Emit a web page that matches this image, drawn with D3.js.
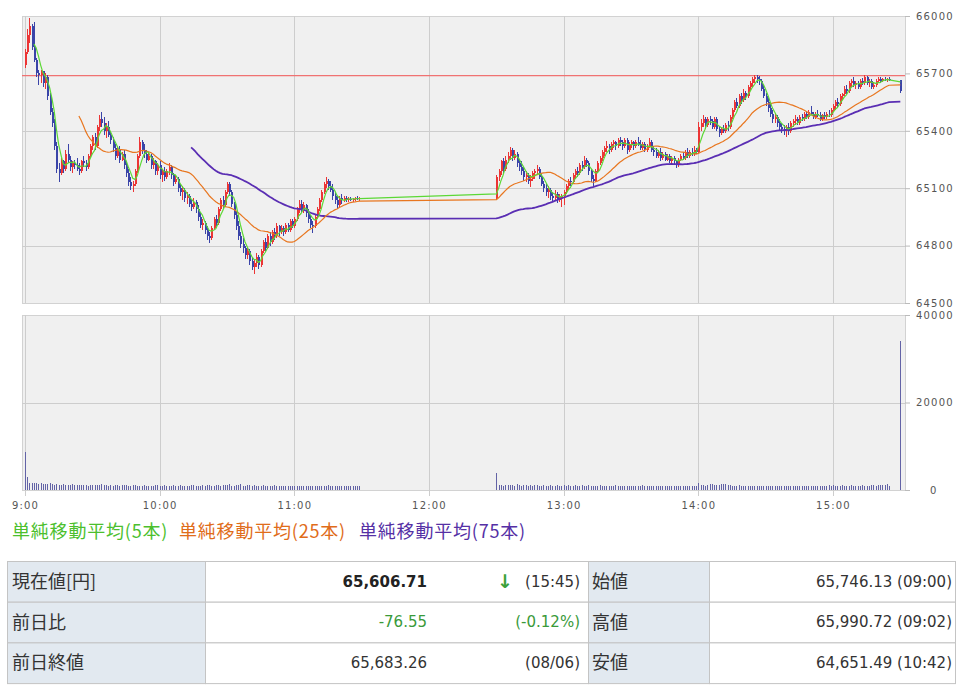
<!DOCTYPE html>
<html lang="ja">
<head>
<meta charset="UTF-8">
<title>日中足チャート</title>
<script src="https://cdn.jsdelivr.net/npm/d3@7"></script>
<style>
  body { margin: 0; background: #fff; }
  svg { display: block; }
  .tick text { font-family: "DejaVu Sans", sans-serif; font-size: 10px; fill: #555; letter-spacing: 1.2px; }
</style>
</head>
<body>
<svg width="962" height="690"></svg>
<script>
// ---- session starts ----
const amStart = "09:00";
const pmStart = "12:30";
const closeTime = "15:30";

// ---- morning 1-minute bars (9:00 - 11:29) ----
const amOpen = [
  65746,65810,65900,65950,65840,65770,65700,65690,65710,65650,
  65680,65580,65500,65440,65320,65200,65180,65240,65200,65280,
  65250,65210,65230,65220,65200,65190,65240,65230,65210,65270,
  65320,65370,65320,65420,65460,65440,65400,65420,65380,65350,
  65310,65270,65300,65250,65280,65220,65180,65130,65110,65120,
  65190,65270,65340,65300,65280,65250,65270,65220,65240,65190,
  65220,65170,65190,65160,65190,65210,65170,65130,65150,65100,
  65080,65090,65050,65060,65020,65000,65030,64990,64950,64910,
  64920,64880,64850,64840,64890,64940,64920,64990,65040,65010,
  65080,65120,65080,65020,64960,64900,64850,64810,64790,64750,
  64770,64720,64690,64710,64740,64700,64770,64820,64790,64850,
  64820,64870,64850,64900,64870,64890,64870,64910,64880,64930,
  64900,64940,64990,65020,64990,65010,64970,64940,64910,64900,
  64950,64990,65040,65080,65120,65140,65110,65090,65060,65040,
  65010,65050,65040,65050,65040,65045,65040,65045,65050,65045
];
const amHigh = [
  65830,65930,65991,65960,65970,65780,65720,65720,65715,65700,
  65690,65600,65520,65460,65340,65230,65260,65250,65300,65330,
  65270,65240,65250,65260,65230,65250,65270,65250,65280,65330,
  65380,65390,65430,65480,65500,65470,65440,65450,65400,65370,
  65330,65320,65320,65290,65300,65240,65200,65160,65140,65200,
  65280,65365,65350,65330,65300,65290,65280,65260,65250,65230,
  65240,65200,65210,65200,65230,65220,65180,65170,65160,65120,
  65110,65100,65080,65070,65040,65050,65040,65010,64970,64940,
  64930,64900,64870,64900,64950,64960,65000,65050,65060,65090,
  65135,65130,65090,65030,64980,64930,64870,64840,64800,64790,
  64780,64740,64730,64760,64750,64780,64830,64840,64860,64870,
  64880,64890,64920,64910,64910,64900,64920,64920,64940,64940,
  64950,65000,65040,65040,65030,65020,64990,64960,64930,64960,
  65000,65050,65090,65130,65161,65150,65140,65120,65080,65060,
  65060,65070,65060,65060,65055,65055,65050,65055,65060,65055
];
const amLow = [
  65730,65800,65860,65820,65760,65680,65640,65650,65630,65620,
  65560,65480,65420,65300,65180,65135,65170,65180,65190,65230,
  65190,65180,65200,65190,65170,65180,65210,65190,65200,65260,
  65300,65300,65310,65400,65420,65380,65360,65370,65330,65290,
  65250,65260,65230,65240,65200,65160,65110,65090,65082,65110,
  65180,65260,65280,65260,65230,65240,65200,65200,65170,65170,
  65150,65130,65140,65150,65170,65150,65110,65120,65080,65060,
  65040,65030,65020,65000,64980,64990,64970,64930,64890,64880,
  64860,64830,64815,64830,64880,64900,64910,64980,64990,65000,
  65070,65060,65000,64940,64880,64830,64790,64760,64730,64730,
  64700,64670,64651,64690,64680,64690,64760,64770,64780,64800,
  64810,64830,64840,64850,64860,64850,64860,64870,64870,64890,
  64890,64930,64970,64970,64970,64950,64920,64890,64867,64890,
  64940,64980,65030,65070,65100,65090,65080,65040,65020,64990,
  65000,65020,65030,65030,65030,65035,65030,65035,65040,65035
];
const amClose = [
  65810,65900,65950,65840,65770,65700,65690,65710,65650,65680,
  65580,65500,65440,65320,65200,65180,65240,65200,65280,65250,
  65210,65230,65220,65200,65190,65240,65230,65210,65270,65320,
  65370,65320,65420,65460,65440,65400,65420,65380,65350,65310,
  65270,65300,65250,65280,65220,65180,65130,65110,65120,65190,
  65270,65340,65300,65280,65250,65270,65220,65240,65190,65220,
  65170,65190,65160,65190,65210,65170,65130,65150,65100,65080,
  65090,65050,65060,65020,65000,65030,64990,64950,64910,64920,
  64880,64850,64840,64890,64940,64920,64990,65040,65010,65080,
  65120,65080,65020,64960,64900,64850,64810,64790,64750,64770,
  64720,64690,64710,64740,64700,64770,64820,64790,64850,64820,
  64870,64850,64900,64870,64890,64870,64910,64880,64930,64900,
  64940,64990,65020,64990,65010,64970,64940,64910,64900,64950,
  64990,65040,65080,65120,65140,65110,65090,65060,65040,65010,
  65050,65040,65050,65040,65045,65040,65045,65050,65045,65050
];
const amVol = [
  8700,3000,1700,1600,1500,1650,1400,1550,1300,1450,1350,1500,
  1300,1250,1400,1200,1150,1300,1250,1100,1200,1350,
  1100,1200,1050,1150,1250,1100,1000,1200,1150,1050,
  1100,1250,1300,1150,1050,1000,1100,950,1050,1150,
  1000,1100,1200,1050,950,1000,1100,1050,900,1000,
  950,1050,1000,900,950,1000,1050,1100,950,1000,
  1050,1000,900,950,1100,1000,950,1050,900,1000,
  1000,950,1100,1150,1000,950,900,1050,1000,1100,
  1250,1000,950,1100,1050,1000,1200,1150,1050,1300,
  1000,950,1100,1050,1400,1000,950,1050,1100,1000,
  1150,1000,900,950,1200,1000,900,950,1000,1050,
  950,900,1000,850,900,950,900,850,1000,900,
  950,900,850,900,1000,950,900,850,900,950,
  1000,900,950,1050,900,850,900,950,1000,900,
  950,900,850,1000,900,950,850,900
];

// ---- afternoon 1-minute bars (12:30 - 15:25) ----
const pmOpen = [
  65050,65160,65190,65240,65200,65250,65270,65300,65260,65280,
  65230,65210,65190,65160,65170,65140,65150,65180,65190,65200,
  65160,65120,65100,65080,65090,65060,65050,65070,65040,65050,
  65060,65080,65110,65140,65130,65170,65190,65180,65220,65210,
  65250,65230,65190,65150,65140,65190,65230,65260,65290,65310,
  65320,65300,65330,65340,65320,65350,65340,65320,65350,65300,
  65330,65340,65320,65340,65330,65310,65330,65300,65320,65340,
  65300,65290,65270,65290,65260,65280,65250,65270,65240,65260,
  65240,65220,65250,65270,65260,65290,65270,65290,65280,65300,
  65290,65420,65440,65460,65430,65460,65450,65420,65460,65410,
  65390,65410,65400,65430,65420,65470,65510,65550,65530,65580,
  65560,65600,65580,65630,65650,65670,65680,65670,65660,65620,
  65580,65550,65520,65490,65460,65470,65440,65420,65410,65400,
  65420,65400,65440,65450,65460,65440,65470,65460,65490,65470,
  65500,65490,65470,65490,65480,65460,65480,65470,65490,65480,
  65510,65530,65550,65540,65580,65590,65620,65610,65650,65660,
  65640,65650,65630,65660,65650,65680,65650,65660,65630,65640,
  65660,65670,65660,65670,65665,65670
];
const pmHigh = [
  65170,65200,65250,65260,65270,65290,65313,65310,65300,65290,
  65250,65240,65210,65190,65180,65170,65190,65200,65220,65210,
  65180,65140,65120,65110,65100,65080,65090,65080,65070,65070,
  65090,65120,65150,65160,65180,65200,65210,65230,65240,65266,
  65260,65240,65200,65170,65200,65240,65270,65300,65320,65345,
  65330,65340,65350,65345,65360,65370,65350,65360,65360,65340,
  65350,65345,65350,65370,65350,65340,65340,65330,65360,65350,
  65320,65310,65300,65310,65290,65290,65280,65280,65270,65270,
  65250,65260,65280,65290,65300,65310,65300,65310,65320,65310,
  65444,65460,65480,65470,65470,65476,65460,65470,65470,65420,
  65420,65430,65440,65450,65480,65520,65560,65570,65590,65600,
  65620,65610,65640,65660,65680,65691,65690,65685,65670,65640,
  65600,65570,65540,65510,65490,65480,65460,65440,65430,65430,
  65440,65450,65460,65480,65470,65480,65490,65500,65500,65510,
  65530,65500,65500,65510,65500,65490,65500,65500,65510,65520,
  65540,65560,65570,65590,65600,65633,65640,65660,65670,65680,
  65660,65660,65670,65675,65690,65685,65670,65670,65650,65670,
  65680,65680,65675,65680,65675,65680
];
const pmLow = [
  65045,65140,65170,65180,65190,65230,65250,65240,65250,65210,
  65190,65170,65140,65130,65120,65108,65140,65150,65170,65150,
  65110,65080,65060,65050,65040,65030,65040,65024,65030,65003,
  65010,65070,65090,65110,65120,65150,65160,65170,65190,65200,
  65210,65170,65130,65108,65130,65180,65220,65240,65270,65290,
  65280,65290,65310,65300,65310,65320,65300,65310,65280,65290,
  65310,65300,65310,65320,65300,65300,65290,65290,65310,65290,
  65270,65260,65260,65240,65250,65240,65240,65230,65230,65220,
  65208,65210,65240,65250,65250,65260,65260,65270,65270,65280,
  65285,65400,65420,65410,65420,65430,65410,65410,65400,65370,
  65380,65390,65390,65400,65410,65460,65500,65520,65520,65540,
  65550,65560,65570,65610,65630,65650,65650,65640,65610,65570,
  65530,65500,65470,65440,65440,65420,65400,65390,65380,65370,
  65380,65390,65420,65430,65430,65430,65450,65450,65460,65460,
  65480,65460,65460,65470,65450,65450,65460,65460,65470,65470,
  65500,65510,65520,65530,65560,65580,65590,65600,65630,65630,
  65620,65620,65620,65640,65640,65640,65630,65620,65617,65630,
  65650,65650,65655,65660,65655,65660
];
const pmClose = [
  65160,65190,65240,65200,65250,65270,65300,65260,65280,65230,
  65210,65190,65160,65170,65140,65150,65180,65190,65200,65160,
  65120,65100,65080,65090,65060,65050,65070,65040,65060,65060,
  65080,65110,65140,65130,65170,65190,65180,65220,65210,65250,
  65230,65190,65150,65140,65190,65230,65260,65290,65310,65320,
  65300,65330,65340,65320,65350,65340,65320,65350,65300,65330,
  65340,65320,65340,65330,65310,65330,65300,65320,65340,65300,
  65290,65270,65290,65260,65280,65250,65270,65240,65260,65240,
  65220,65250,65270,65260,65290,65270,65290,65280,65300,65290,
  65420,65440,65460,65430,65460,65450,65420,65460,65410,65390,
  65410,65400,65430,65420,65470,65510,65550,65530,65580,65560,
  65600,65580,65630,65650,65670,65680,65670,65660,65620,65580,
  65550,65520,65490,65460,65470,65440,65420,65410,65400,65420,
  65400,65440,65450,65460,65440,65470,65460,65490,65470,65500,
  65490,65470,65490,65480,65460,65480,65470,65490,65480,65510,
  65530,65550,65540,65580,65590,65620,65610,65650,65660,65640,
  65650,65630,65660,65650,65680,65650,65660,65630,65640,65660,
  65670,65660,65670,65665,65670,65665
];
const pmVol = [
  3800,1200,1100,1000,1150,1050,1250,1100,1000,1300,1150,
  1000,1100,1050,950,1100,1000,1050,1100,950,1000,
  1100,1000,950,1050,900,1000,1150,1000,950,1050,
  1000,1100,950,1000,1050,950,1000,1100,1000,950,
  1050,1000,900,950,1000,1050,1000,950,900,1000,
  950,1000,1050,900,950,1000,900,950,1000,950,
  900,1000,950,900,1050,950,900,1000,950,900,
  950,900,850,950,900,1000,850,900,950,1000,
  900,850,950,900,850,1000,900,950,1000,1500,
  1200,1100,1000,1050,1300,1350,1250,1100,1200,1300,
  1350,1300,1200,1100,1000,950,1000,1050,950,1000,
  950,1000,900,950,1000,950,900,1000,950,900,
  1000,950,900,950,1000,900,950,1000,900,950,
  1000,950,1000,900,950,1000,950,900,1000,950,
  1000,950,900,1000,950,900,1000,1050,950,1100,
  1000,950,1000,1050,950,900,1000,1050,1000,950,
  1000,950,1050,1000,950,1000,1050,1100,1000,1150,
  1050,1100,1200,1400,1000
];

// ---- closing auction bar (15:30) ----
const closeOpen = [65665];
const closeHigh = [65668];
const closeLow = [65600];
const closeClose = [65606.71];
const closeVol = [34000];

const prevClose = 65683.26;
const priceTicks = [64500, 64800, 65100, 65400, 65700, 66000];
const volTicks = [0, 20000, 40000];
const hourLabels = ["9:00", "10:00", "11:00", "12:00", "13:00", "14:00", "15:00"];

const legendItems = [
  { name: "単純移動平均(5本)", n: 5, color: "#5cd836", text: "#4cbf2e" },
  { name: "単純移動平均(25本)", n: 25, color: "#e8761f", text: "#e06c1a" },
  { name: "単純移動平均(75本)", n: 75, color: "#5a2eb3", text: "#5530a5" }
];

const tableLeft = ["現在値[円]", "前日比", "前日終値"];
const tableValue = ["65,606.71", "-76.55", "65,683.26"];
const tableSub = ["(15:45)", "(-0.12%)", "(08/06)"];
const tableRightLabel = ["始値", "高値", "安値"];
const tableRightValue = ["65,746.13 (09:00)", "65,990.72 (09:02)", "64,651.49 (10:42)"];

// --------------------------------------------------------------
const svg = d3.select("svg");
const parseT = d3.timeParse("%H:%M");

function makeBars(start, o, h, l, c, v) {
  const t0 = parseT(start);
  return o.map((d, i) => ({ t: d3.timeMinute.offset(t0, i), o: d, h: h[i], l: l[i], c: c[i], v: v[i] }));
}
const bars = makeBars(amStart, amOpen, amHigh, amLow, amClose, amVol)
  .concat(makeBars(pmStart, pmOpen, pmHigh, pmLow, pmClose, pmVol))
  .concat(makeBars(closeTime, closeOpen, closeHigh, closeLow, closeClose, closeVol));

// layout
const plotL = 22, plotR = 905;
const pTop = 16, pBot = 303;
const vTop = 315, vBot = 490;

const x = d3.scaleTime()
  .domain([parseT("09:00"), parseT("15:00")])
  .range([25, 833]);
const y = d3.scaleLinear().domain([64500, 66000]).range([pBot, pTop]);
const yv = d3.scaleLinear().domain([0, 40000]).range([vBot, vTop]);

const hours = hourLabels.map(s => parseT(s));

// panel backgrounds
[[pTop, pBot], [vTop, vBot]].forEach(([t, b]) => {
  svg.append("rect")
    .attr("x", plotL + 0.5).attr("y", t + 0.5)
    .attr("width", plotR - plotL).attr("height", b - t)
    .attr("fill", "#f0f0f0").attr("stroke", "#d2d2d2");
});

// grid (the 65700 line sits under the previous-close line)
const grid = svg.append("g").attr("stroke", "#cdcdcd").attr("shape-rendering", "crispEdges");
grid.selectAll(".hp").data(priceTicks.slice(1, -1).filter(d => Math.abs(y(d) - y(prevClose)) > 4)).enter().append("line")
  .attr("x1", plotL).attr("x2", plotR)
  .attr("y1", d => Math.round(y(d)) + 0.5).attr("y2", d => Math.round(y(d)) + 0.5);
grid.append("line").attr("x1", plotL).attr("x2", plotR)
  .attr("y1", Math.round(yv(20000)) + 0.5).attr("y2", Math.round(yv(20000)) + 0.5);
hours.forEach(h => {
  const xx = Math.round(x(h)) + 0.5;
  grid.append("line").attr("x1", xx).attr("x2", xx).attr("y1", pTop).attr("y2", pBot);
  grid.append("line").attr("x1", xx).attr("x2", xx).attr("y1", vTop).attr("y2", vBot + 6);
});

// previous close line
svg.append("line")
  .attr("x1", plotL).attr("x2", plotR)
  .attr("y1", y(prevClose) - 1).attr("y2", y(prevClose) - 1)
  .attr("stroke", "#f07272").attr("stroke-width", 1.2);

// candles
const up = "#ec3535", down = "#3a44a8";
const candles = svg.append("g").attr("shape-rendering", "crispEdges");
candles.selectAll("line").data(bars).enter().append("line")
  .attr("x1", d => Math.round(x(d.t)) + 0.5).attr("x2", d => Math.round(x(d.t)) + 0.5)
  .attr("y1", d => y(d.h)).attr("y2", d => y(d.l))
  .attr("stroke", d => d.c >= d.o ? up : down);
candles.selectAll("rect").data(bars).enter().append("rect")
  .attr("x", d => Math.round(x(d.t)))
  .attr("width", 2)
  .attr("y", d => y(Math.max(d.o, d.c)))
  .attr("height", d => Math.max(1, Math.abs(y(d.o) - y(d.c))))
  .attr("fill", d => d.c >= d.o ? up : down);

// moving averages
function sma(n) {
  return bars.map((d, i) => i < n - 1 ? null :
    { t: d.t, v: d3.mean(bars.slice(i - n + 1, i + 1), b => b.c) }).filter(d => d);
}
const line = d3.line().x(d => x(d.t)).y(d => y(d.v));
legendItems.slice().reverse().forEach(item => {
  svg.append("path")
    .datum(sma(item.n))
    .attr("d", line)
    .attr("fill", "none")
    .attr("stroke", item.color)
    .attr("stroke-width", item.n === 75 ? 1.8 : 1.2)
    .attr("stroke-linejoin", "round");
});

// volume bars
svg.append("g").attr("shape-rendering", "crispEdges")
  .selectAll("line").data(bars).enter().append("line")
  .attr("x1", d => Math.round(x(d.t)) + 0.5).attr("x2", d => Math.round(x(d.t)) + 0.5)
  .attr("y1", yv(0)).attr("y2", d => yv(d.v))
  .attr("stroke", "#6363a6");

// right axes
svg.append("g")
  .attr("transform", `translate(${plotR},0)`)
  .call(d3.axisRight(y).tickValues(priceTicks).tickSize(5).tickPadding(6).tickFormat(d3.format("d")))
  .call(g => g.select(".domain").remove())
  .call(g => g.selectAll(".tick line").attr("stroke", "#bbb"));
svg.append("g")
  .attr("transform", `translate(${plotR},0)`)
  .call(d3.axisRight(yv).tickValues(volTicks).tickSize(5).tickPadding(6).tickFormat(d3.format("d")))
  .call(g => g.select(".domain").remove())
  .call(g => g.selectAll(".tick line").attr("stroke", "#bbb"))
  .call(g => g.selectAll(".tick").filter(d => d === 0).select("text").attr("dx", 14));

// time axis
svg.append("g")
  .attr("transform", `translate(0,${vBot})`)
  .call(d3.axisBottom(x).tickValues(hours).tickSize(0).tickPadding(12)
    .tickFormat((d, i) => hourLabels[i]))
  .call(g => g.select(".domain").remove());

// legend
const lx = [12, 179, 359];
legendItems.forEach((item, i) => {
  svg.append("text")
    .attr("x", lx[i]).attr("y", 538)
    .attr("font-family", "'Noto Sans CJK JP', sans-serif")
    .attr("font-size", 18)
    .attr("letter-spacing", 0.8)
    .attr("fill", item.text)
    .text(item.name);
});

// info table
const cols = [7, 205, 588, 709, 955];
const rowTop = 561, rowH = 40.7;
const tbl = svg.append("g");
tableLeft.forEach((lab, r) => {
  const ty = rowTop + r * rowH;
  for (let c = 0; c < 4; c++) {
    tbl.append("rect")
      .attr("x", cols[c] + 0.5).attr("y", ty + 0.5)
      .attr("width", cols[c + 1] - cols[c]).attr("height", rowH)
      .attr("fill", c % 2 === 0 ? "#e2e9f0" : "#fff")
      .attr("stroke", "#c4c4c4");
  }
  const cy = ty + rowH / 2;
  const jp = t => t.attr("font-family", "'Noto Sans CJK JP', sans-serif").attr("font-size", 18).attr("fill", "#333").attr("dy", "0.36em");
  const num = t => t.attr("font-family", "'DejaVu Sans', sans-serif").attr("font-size", 15).attr("dy", "0.36em");
  tbl.append("text").attr("x", 12).attr("y", cy).text(lab).call(jp);
  tbl.append("text").attr("x", 592).attr("y", cy).text(tableRightLabel[r]).call(jp);
  tbl.append("text").attr("x", 427).attr("y", cy).attr("text-anchor", "end")
    .text(tableValue[r]).call(num)
    .attr("font-weight", r === 0 ? "bold" : "normal")
    .attr("fill", r === 1 ? "#3a9a3a" : (r === 0 ? "#222" : "#333"));
  tbl.append("text").attr("x", 580).attr("y", cy).attr("text-anchor", "end")
    .text(tableSub[r]).call(num)
    .attr("fill", r === 1 ? "#3a9a3a" : "#333");
  tbl.append("text").attr("x", 952).attr("y", cy).attr("text-anchor", "end")
    .text(tableRightValue[r]).call(num).attr("fill", "#333");
});
// down arrow beside the current value time
tbl.append("text")
  .attr("x", 505).attr("y", rowTop + rowH / 2)
  .attr("text-anchor", "middle").attr("dy", "0.36em")
  .attr("font-family", "'DejaVu Sans', sans-serif").attr("font-size", 19).attr("font-weight", "bold")
  .attr("fill", "#3aa13a")
  .text("↓");
</script>
</body>
</html>
